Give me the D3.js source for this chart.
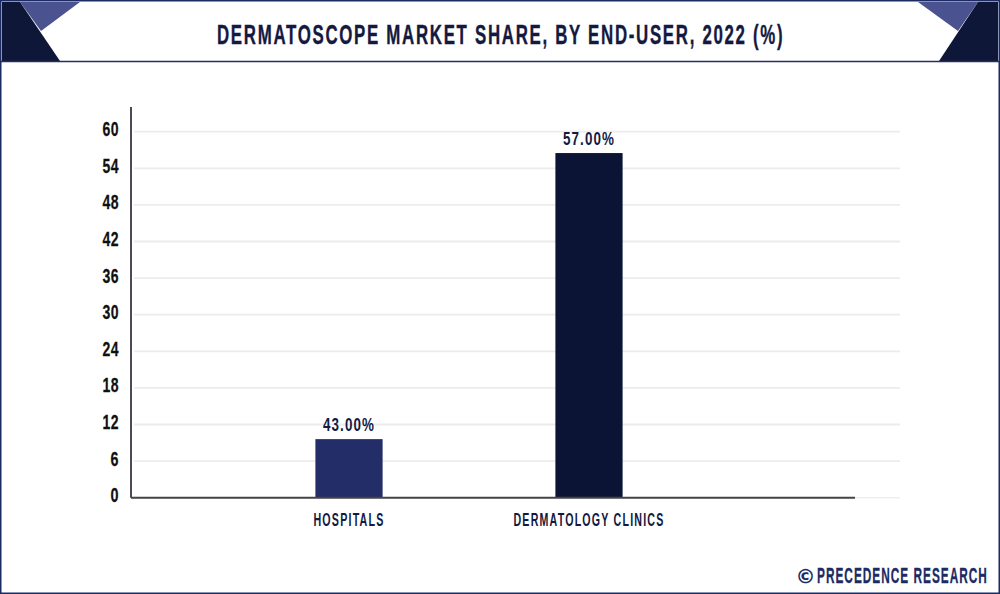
<!DOCTYPE html>
<html>
<head>
<meta charset="utf-8">
<script src="https://cdn.jsdelivr.net/npm/d3@7"></script>
<style>
  html, body { margin: 0; padding: 0; background: #fff; }
  svg { display: block; }
  text { font-family: "Liberation Sans Narrow", "Liberation Sans", sans-serif; font-weight: 700; }
</style>
</head>
<body>
<div id="chart"></div>
<script>
const titleText = "DERMATOSCOPE MARKET SHARE, BY END-USER, 2022 (%)"
const footerText = "PRECEDENCE RESEARCH"

const categories = ["HOSPITALS", "DERMATOLOGY CLINICS"]
// bar heights as drawn on the axis, the printed labels are a different thing
const barValues = [9.6, 56.5]
const barLabels = ["43.00%", "57.00%"]
const barColors = ["#232d67", "#0b1434"]
const tickValues = [0, 6, 12, 18, 24, 30, 36, 42, 48, 54, 60]

const width = 1000
const height = 594
const navy = "#1c2b63"
const darkNavy = "#0f1739"
const midBlue = "#4a5290"
const textColor = "#14193f"

const svg = d3.select("#chart").append("svg")
    .attr("width", width)
    .attr("height", height)

// header corners
const corners = [
  { d: "M20,2L80,2L41,31Z", fill: midBlue },
  { d: "M2,2L20,2L60,61L2,61Z", fill: darkNavy },
  { d: "M918,2L978,2L958,31Z", fill: midBlue },
  { d: "M978,2L998,2L998,61L939,61Z", fill: darkNavy }
]
svg.selectAll("path.corner")
    .data(corners)
    .enter()
    .append("path")
    .attr("class", "corner")
    .attr("d", d => d.d)
    .attr("fill", d => d.fill)

svg.append("line")
    .attr("x1", 0).attr("x2", width)
    .attr("y1", 61.5).attr("y2", 61.5)
    .attr("stroke", "#262c66")
    .attr("stroke-width", 1.5)

svg.append("rect")
    .attr("x", 0.75).attr("y", 0.75)
    .attr("width", width - 1.5).attr("height", height - 1.5)
    .attr("fill", "none")
    .attr("stroke", navy)
    .attr("stroke-width", 1.5)

// the original font is narrower than anything installed: squeeze the glyphs
// and open the letter spacing so that the text ends up w wide
function fit(node, px, py, w, gap) {
  const n = node.textContent.length
  const natural = node.getComputedTextLength()
  const sx = (w - gap * (n - 1)) / natural
  node.setAttribute("x", 0)
  node.setAttribute("transform", `translate(${px},${py}) scale(${sx},1)`)
  node.style.letterSpacing = (gap / sx) + "px"
}

const title = svg.append("text")
    .attr("font-size", 28)
    .attr("fill", textColor)
    .attr("stroke", textColor)
    .attr("stroke-width", 0.4)
    .text(titleText)
fit(title.node(), 217, 44, 566, 1.7)

// scales
const x = d3.scaleBand()
    .domain(categories)
    .range([229, 709])
    .paddingInner(0.72)
    .paddingOuter(0.36)

const y = d3.scaleLinear()
    .domain([0, 60])
    .range([497.7, 131.7])

// grid
svg.append("g")
    .selectAll("line")
    .data(tickValues.slice(1))
    .enter()
    .append("line")
    .attr("x1", 134).attr("x2", 900)
    .attr("y1", d => y(d)).attr("y2", d => y(d))
    .attr("stroke", "#ececec")
    .attr("stroke-width", 1.8)

// faint end of the base line
svg.append("line")
    .attr("x1", 855).attr("x2", 900)
    .attr("y1", y(0)).attr("y2", y(0))
    .attr("stroke", "#efefef")
    .attr("stroke-width", 1.6)

// bars
svg.append("g")
    .selectAll("rect")
    .data(categories)
    .enter()
    .append("rect")
    .attr("x", d => x(d))
    .attr("y", (d, i) => y(barValues[i]))
    .attr("width", x.bandwidth())
    .attr("height", (d, i) => y(0) - y(barValues[i]))
    .attr("fill", (d, i) => barColors[i])

// value labels
svg.append("g")
    .selectAll("text")
    .data(categories)
    .enter()
    .append("text")
    .attr("text-anchor", "middle")
    .attr("font-size", 18)
    .attr("fill", textColor)
    .text((d, i) => barLabels[i])
    .each(function(d, i) {
      fit(this, x(d) + x.bandwidth() / 2, y(barValues[i]) - 8, 51, 1.1)
    })

// y axis
const yAxis = svg.append("g")
    .attr("transform", "translate(131,0)")
    .call(d3.axisLeft(y).tickValues(tickValues).tickSize(0).tickPadding(12))
yAxis.select(".domain").remove()
yAxis.selectAll("text")
    .attr("font-size", 20)
    .attr("fill", "#101010")
    .attr("stroke", "#101010")
    .attr("stroke-width", 0.25)
    .attr("dy", "0.2em")
    .each(function(d) {
      fit(this, -12, 0, String(d).length * 8, 0.4)
    })
svg.append("line")
    .attr("x1", 131).attr("x2", 131)
    .attr("y1", 107).attr("y2", y(0))
    .attr("stroke", "#1f1f28")
    .attr("stroke-width", 1.6)

// x axis
const xAxis = svg.append("g")
    .attr("transform", `translate(0,${y(0)})`)
    .call(d3.axisBottom(x).tickSize(0).tickPadding(15))
xAxis.select(".domain").remove()
const catWidths = [70, 150]
xAxis.selectAll("text")
    .attr("font-size", 19)
    .attr("fill", textColor)
    .each(function(d, i) {
      fit(this, 0, 0, catWidths[i], 1.2)
    })
svg.append("line")
    .attr("x1", 131).attr("x2", 855)
    .attr("y1", y(0)).attr("y2", y(0))
    .attr("stroke", "#444448")
    .attr("stroke-width", 2)

// footer
svg.append("text")
    .attr("x", 795.5).attr("y", 583)
    .attr("fill", navy)
    .style("font-family", "'DejaVu Sans', sans-serif")
    .style("font-weight", 700)
    .style("font-size", "20px")
    .text("©")
const footer = svg.append("text")
    .attr("font-size", 22.5)
    .attr("fill", navy)
    .attr("stroke", navy)
    .attr("stroke-width", 0.3)
    .text(footerText)
fit(footer.node(), 817, 583, 170, 1)
</script>
</body>
</html>
